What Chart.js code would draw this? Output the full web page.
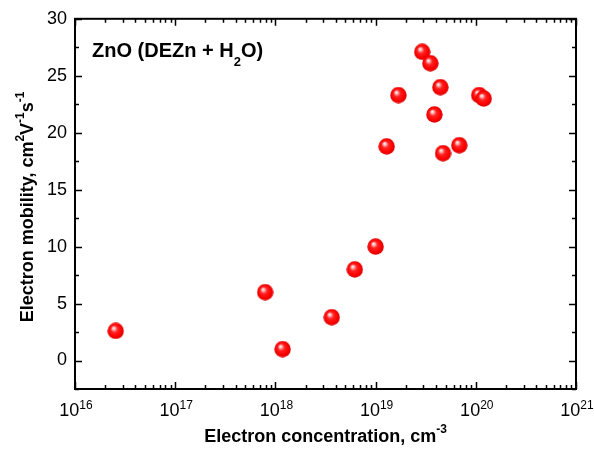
<!DOCTYPE html>
<html>
<head>
<meta charset="utf-8">
<script src="https://cdn.jsdelivr.net/npm/chart.js@4.4.1/dist/chart.umd.min.js"></script>
<style>
  html, body { margin: 0; padding: 0; background: #fff; }
</style>
</head>
<body>
<canvas id="chart" width="594" height="450"></canvas>
<script>
// data
const concentration = [2.55e16, 7.9e17, 1.18e18, 3.65e18, 6.2e18, 1.0e19, 1.29e19, 1.69e19,
                       2.92e19, 3.52e19, 4.43e19, 3.86e19, 4.71e19, 6.84e19, 1.08e20, 1.2e20];
const mobility = [2.6, 6.0, 1.0, 3.8, 8.0, 10.0, 18.8, 23.3,
                  27.1, 26.1, 24.0, 21.6, 18.2, 18.9, 23.3, 23.0];
const xTicks = [1e16, 1e17, 1e18, 1e19, 1e20, 1e21];
const xTickExp = ['16', '17', '18', '19', '20', '21'];
const yTicks = [0, 5, 10, 15, 20, 25, 30];

const FONT = '"Liberation Sans", Arial, sans-serif';

// red shaded ball used as the marker
function makeBall(d) {
    const c = document.createElement('canvas');
    c.width = d;
    c.height = d;
    const g = c.getContext('2d');
    const r = d / 2;
    const grad = g.createRadialGradient(r * 0.72, r * 0.64, 0, r, r, r);
    grad.addColorStop(0, '#ffffff');
    grad.addColorStop(0.15, '#ffc4c4');
    grad.addColorStop(0.4, '#ff2424');
    grad.addColorStop(0.75, '#ff0000');
    grad.addColorStop(1, '#d20000');
    g.fillStyle = grad;
    g.beginPath();
    g.arc(r, r, r - 0.3, 0, Math.PI * 2);
    g.fill();
    return c;
}
const ball = makeBall(17);

// draws a run of text pieces, some raised or lowered
function richWidth(ctx, parts) {
    let w = 0;
    parts.forEach(p => { ctx.font = p.font; w += ctx.measureText(p.t).width; });
    return w;
}
function drawRich(ctx, parts, x, y) {
    parts.forEach(p => {
        ctx.font = p.font;
        ctx.fillText(p.t, x, y + (p.dy || 0));
        x += ctx.measureText(p.t).width;
    });
}

const bold18 = 'bold 18px ' + FONT;
const bold12 = 'bold 12px ' + FONT;
const xTitle = [
    { t: 'Electron concentration, cm', font: bold18 },
    { t: '-3', font: bold12, dy: -9 }
];
const yTitle = [
    { t: 'Electron mobility, cm', font: bold18 },
    { t: '2', font: bold12, dy: -9 },
    { t: 'V', font: bold18 },
    { t: '-1', font: bold12, dy: -9 },
    { t: 's', font: bold18 },
    { t: '-1', font: bold12, dy: -9 }
];
const label = [
    { t: 'ZnO (DEZn + H', font: 'bold 20px ' + FONT },
    { t: '2', font: 'bold 13px ' + FONT, dy: 9 },
    { t: 'O)', font: 'bold 20px ' + FONT }
];

const framePlugin = {
    id: 'frame',
    beforeDatasetsDraw(chart) {
        const ctx = chart.ctx;
        const { left, right, top, bottom } = chart.chartArea;
        const xs = chart.scales.x;
        const ys = chart.scales.y;
        ctx.save();
        ctx.strokeStyle = '#000';
        ctx.fillStyle = '#000';

        // inward ticks on all four sides
        ctx.lineWidth = 1.5;
        ctx.beginPath();
        for (let v = -2.5; v <= 30; v += 2.5) {
            const y = Math.round(ys.getPixelForValue(v)) + 0.5;
            const len = yTicks.includes(v) ? 7 : 4;
            ctx.moveTo(left, y); ctx.lineTo(left + len, y);
            ctx.moveTo(right, y); ctx.lineTo(right - len, y);
        }
        for (let e = 16; e <= 20; e++) {
            for (let m = 1; m <= 10; m++) {
                const x = Math.round(xs.getPixelForValue(m * Math.pow(10, e))) + 0.5;
                const len = (m === 1 || m === 10) ? 7 : 4;
                ctx.moveTo(x, bottom); ctx.lineTo(x, bottom - len);
                ctx.moveTo(x, top); ctx.lineTo(x, top + len);
            }
        }
        ctx.stroke();

        ctx.lineWidth = 2;
        ctx.strokeRect(left, top, right - left, bottom - top);

        // x tick labels as 10 with a raised power
        ctx.textAlign = 'left';
        ctx.textBaseline = 'alphabetic';
        xTicks.forEach((v, i) => {
            const parts = [
                { t: '10', font: '18px ' + FONT },
                { t: xTickExp[i], font: '12px ' + FONT, dy: -7 }
            ];
            const w = richWidth(ctx, parts);
            drawRich(ctx, parts, xs.getPixelForValue(v) - w / 2 + 1, bottom + 27);
        });

        // axis titles
        const xw = richWidth(ctx, xTitle);
        drawRich(ctx, xTitle, (left + right) / 2 - xw / 2, 442);

        const yw = richWidth(ctx, yTitle);
        ctx.save();
        ctx.translate(33, (top + bottom) / 2 + 3 + yw / 2);
        ctx.rotate(-Math.PI / 2);
        drawRich(ctx, yTitle, 0, 0);
        ctx.restore();

        drawRich(ctx, label, 92, 57);
        ctx.restore();
    }
};

new Chart(document.getElementById('chart'), {
    type: 'scatter',
    data: {
        datasets: [{
            data: concentration.map((c, i) => ({ x: c, y: mobility[i] })),
            pointStyle: ball,
            pointRadius: 8,
            pointHoverRadius: 8
        }]
    },
    options: {
        responsive: false,
        animation: false,
        devicePixelRatio: 1,
        layout: {
            autoPadding: false,
            padding: { top: 17, right: 18, left: 0, bottom: 0 }
        },
        plugins: {
            legend: { display: false },
            tooltip: { enabled: false }
        },
        scales: {
            x: {
                type: 'logarithmic',
                min: 1e16,
                max: 1e21,
                grid: { display: false },
                border: { display: false },
                ticks: { display: false },
                afterBuildTicks: s => { s.ticks = xTicks.map(v => ({ value: v })); },
                afterFit: s => { s.height = 61; }
            },
            y: {
                min: -2.5,
                max: 30,
                grid: { display: false, drawTicks: false },
                border: { display: false },
                ticks: {
                    color: '#000',
                    padding: 8,
                    font: { size: 18, family: FONT }
                },
                afterBuildTicks: s => { s.ticks = yTicks.map(v => ({ value: v })); },
                afterFit: s => { s.width = 75; }
            }
        }
    },
    plugins: [framePlugin]
});
</script>
</body>
</html>
